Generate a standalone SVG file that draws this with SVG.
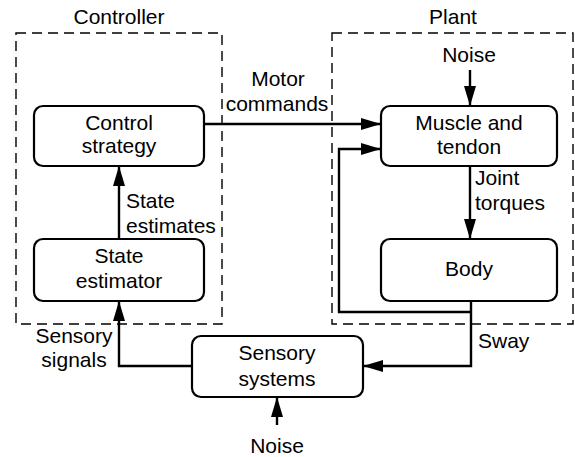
<svg xmlns="http://www.w3.org/2000/svg" width="575" height="457" viewBox="0 0 575 457">
<style>
text{font-family:"Liberation Sans",Arial,sans-serif;font-size:21px;fill:#000}
.m{text-anchor:middle}
.box{fill:#fff;stroke:#000;stroke-width:2.2}
.dash{fill:none;stroke:#000;stroke-width:1.4;stroke-dasharray:10 6}
.c{fill:none;stroke:#000;stroke-width:2.4}
</style>
<defs>
<marker id="ah" markerUnits="userSpaceOnUse" markerWidth="22" markerHeight="14" refX="20" refY="6.5" orient="auto">
<path d="M0,0.5 L20,6.5 L0,12.5 z" fill="#000"/>
</marker>
</defs>
<g id="controller-group">
<rect class="dash" x="16" y="33" width="206" height="291"/>
<text class="m" x="119" y="24">Controller</text>
</g>
<g id="plant-group">
<rect class="dash" x="332" y="33" width="241" height="291"/>
<text class="m" x="453" y="24">Plant</text>
</g>
<g id="connectors">
<path class="c" d="M204,124 H381" marker-end="url(#ah)"/>
<path class="c" d="M119,239 V166" marker-end="url(#ah)"/>
<path class="c" d="M192,366 H119 V301" marker-end="url(#ah)"/>
<path class="c" d="M470,70 V106" marker-end="url(#ah)"/>
<path class="c" d="M470,166 V239" marker-end="url(#ah)"/>
<path class="c" d="M471,312 H339 V149 H381" marker-end="url(#ah)"/>
<path class="c" d="M471,301 V366 H363" marker-end="url(#ah)"/>
<path class="c" d="M277,425 V397" marker-end="url(#ah)"/>
<text class="m" x="278" y="86">Motor</text>
<text class="m" x="277" y="111">commands</text>
<text x="126" y="208">State</text>
<text x="126" y="233">estimates</text>
<text x="475" y="185">Joint</text>
<text x="475" y="210">torques</text>
<text class="m" x="74" y="343">Sensory</text>
<text class="m" x="74" y="367">signals</text>
<text x="478" y="348">Sway</text>
<text class="m" x="469" y="62">Noise</text>
<text class="m" x="277" y="453">Noise</text>
</g>
<g id="control-strategy">
<rect class="box" x="34" y="106" width="170" height="60" rx="9"/>
<text class="m" x="119" y="130">Control</text>
<text class="m" x="119" y="153">strategy</text>
</g>
<g id="state-estimator">
<rect class="box" x="34" y="239" width="170" height="62" rx="9"/>
<text class="m" x="119" y="263">State</text>
<text class="m" x="119" y="288">estimator</text>
</g>
<g id="muscle-tendon">
<rect class="box" x="381" y="106" width="176" height="60" rx="9"/>
<text class="m" x="469" y="130">Muscle and</text>
<text class="m" x="469" y="154">tendon</text>
</g>
<g id="body">
<rect class="box" x="381" y="239" width="176" height="62" rx="9"/>
<text class="m" x="469" y="276">Body</text>
</g>
<g id="sensory-systems">
<rect class="box" x="192" y="336" width="171" height="61" rx="9"/>
<text class="m" x="277" y="360">Sensory</text>
<text class="m" x="277" y="386">systems</text>
</g>
</svg>
